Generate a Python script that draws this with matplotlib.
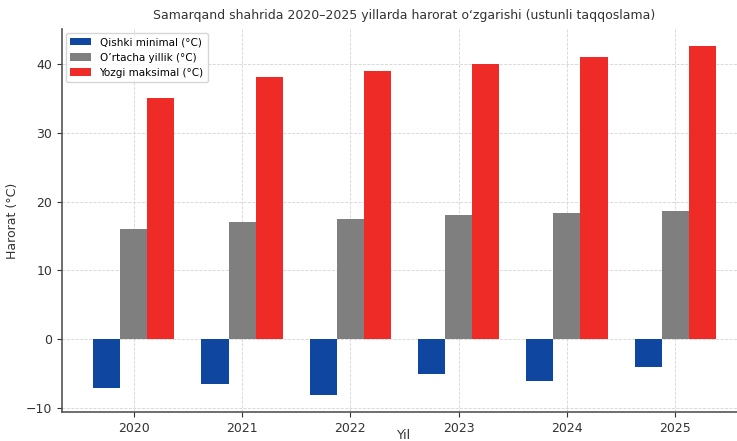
import numpy as np
import matplotlib.pyplot as plt

years = ["2020", "2021", "2022", "2023", "2024", "2025"]
winter_min = [-7, -6.4, -8, -5, -6, -4]
annual_avg = [16, 17, 17.5, 18, 18.3, 18.7]
summer_max = [35, 38, 39, 40, 41, 42.5]

labels = ["Qishki minimal (°C)", "O\u2019rtacha yillik (°C)", "Yozgi maksimal (°C)"]
colors = ["#0F47A0", "#7F7F7F", "#EE2B27"]

fig = plt.figure(figsize=(7.37, 4.41), dpi=100)
ax = fig.add_axes([62 / 737, 29 / 441, (747 - 62) / 737, (412 - 29) / 441])

x = np.arange(len(years))
w = 0.25
ax.bar(x - w, winter_min, w, color=colors[0], label=labels[0], zorder=3)
ax.bar(x, annual_avg, w, color=colors[1], label=labels[1], zorder=3)
ax.bar(x + w, summer_max, w, color=colors[2], label=labels[2], zorder=3)

ax.set_xticks(x)
ax.set_xticklabels(years)
ax.grid(True, linestyle="--", color="#d5d5d5", linewidth=0.6, zorder=0)

for s in ["top", "right"]:
    ax.spines[s].set_visible(False)
for s in ["left", "bottom"]:
    ax.spines[s].set_color("#555555")
    ax.spines[s].set_linewidth(1.2)
ax.tick_params(colors="#333333", labelsize=9)

ax.set_title("Samarqand shahrida 2020\u20132025 yillarda harorat o\u2018zgarishi (ustunli taqqoslama)",
             fontsize=9, color="#333333", pad=7)
ax.set_xlabel("Yil", fontsize=9, color="#333333", labelpad=-4)
ax.set_ylabel("Harorat (°C)", fontsize=9, color="#333333", labelpad=5)

ax.legend(loc="upper left", fontsize=7.5, borderaxespad=0.4)

fig.savefig("out.png", dpi=100)
